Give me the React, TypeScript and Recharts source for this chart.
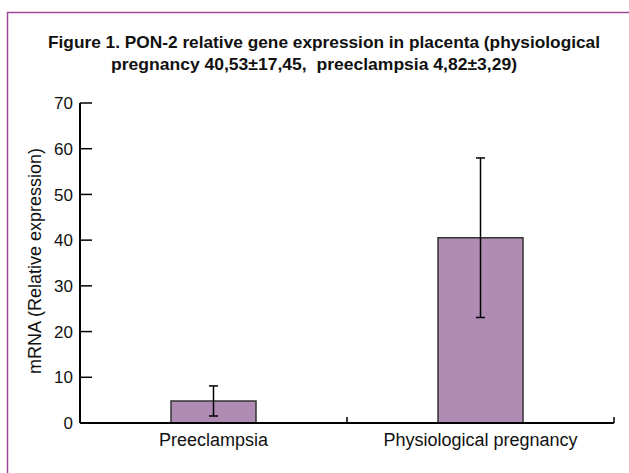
import React from "react";
import { BarChart, Bar, XAxis, YAxis, ErrorBar } from "recharts";

// values (mean ± SD)
const categories = ["Preeclampsia", "Physiological pregnancy"];
const means = [4.82, 40.53];
const sds = [3.29, 17.45];
const yTicks = [0, 10, 20, 30, 40, 50, 60, 70];
const titleLines = [
  "Figure 1. PON-2 relative gene expression in placenta (physiological",
  "pregnancy 40,53\u00b117,45,  preeclampsia 4,82\u00b13,29)",
];
const yLabel = "mRNA (Relative expression)";

const W = 629;
const H = 473;
const MARGIN = { top: 103, right: 15, left: 0, bottom: 20 };
const Y_AXIS_W = 80;
const PLOT_W = W - MARGIN.left - MARGIN.right - Y_AXIS_W;
const FONT = "'Liberation Sans', Arial, sans-serif";

const data = categories.map((name, i) => ({ name, value: means[i], err: sds[i] }));

const YTick = (props: any) => {
  const { x, y, payload } = props;
  return (
    <g>
      <line x1={x + 7} x2={x + 19} y1={y} y2={y} stroke="#000" strokeWidth={1.5} />
      <text x={x} y={y} dy="0.36em" textAnchor="end" fontSize={17} fontFamily={FONT} fill="#111">
        {payload.value}
      </text>
    </g>
  );
};

const XTick = (props: any) => {
  const { x, y, payload } = props;
  const edge = x + PLOT_W / categories.length / 2;
  return (
    <g>
      <line x1={edge} x2={edge} y1={y - 10} y2={y - 16} stroke="#000" strokeWidth={1.5} />
      <text x={x} y={y} dy="0.71em" textAnchor="middle" fontSize={18} fontFamily={FONT} fill="#111">
        {payload.value}
      </text>
    </g>
  );
};

export default function App() {
  return (
    <div style={{ position: "absolute", left: 0, top: 0, width: W, height: H, background: "#fff" }}>
      <BarChart width={W} height={H} data={data} margin={MARGIN}>
        <XAxis
          dataKey="name"
          height={30}
          tickSize={0}
          tickMargin={10}
          tick={<XTick />}
          axisLine={{ stroke: "#000", strokeWidth: 2 }}
          interval={0}
        />
        <YAxis
          width={Y_AXIS_W}
          domain={[0, 70]}
          ticks={yTicks}
          tickSize={0}
          tickMargin={7}
          tick={<YTick />}
          axisLine={{ stroke: "#000", strokeWidth: 2 }}
          interval={0}
        />
        <Bar dataKey="value" fill="#b08cb4" stroke="#333" strokeWidth={1.5} barSize={85} isAnimationActive={false}>
          <ErrorBar dataKey="err" width={4.5} stroke="#000" strokeWidth={1.5} />
        </Bar>
      </BarChart>
      <svg width={W} height={H} style={{ position: "absolute", left: 0, top: 0, pointerEvents: "none" }}>
        <polyline points={`7.5,${H} 7.5,12.5 ${W},12.5`} fill="none" stroke="#9c4a96" strokeWidth={1.5} />
        <text x={324} y={48} textAnchor="middle" fontSize={16.5} fontWeight="bold" fontFamily={FONT} fill="#111"
          textLength={552} lengthAdjust="spacingAndGlyphs" style={{ whiteSpace: "pre" }}>
          {titleLines[0]}
        </text>
        <text x={314} y={70} textAnchor="middle" fontSize={16.5} fontWeight="bold" fontFamily={FONT} fill="#111"
          textLength={406} lengthAdjust="spacingAndGlyphs" style={{ whiteSpace: "pre" }}>
          {titleLines[1]}
        </text>
        <text x={35} y={261} transform="rotate(-90 35 261)" textAnchor="middle" dominantBaseline="central"
          fontSize={18} fontFamily={FONT} fill="#111">
          {yLabel}
        </text>
      </svg>
    </div>
  );
}
